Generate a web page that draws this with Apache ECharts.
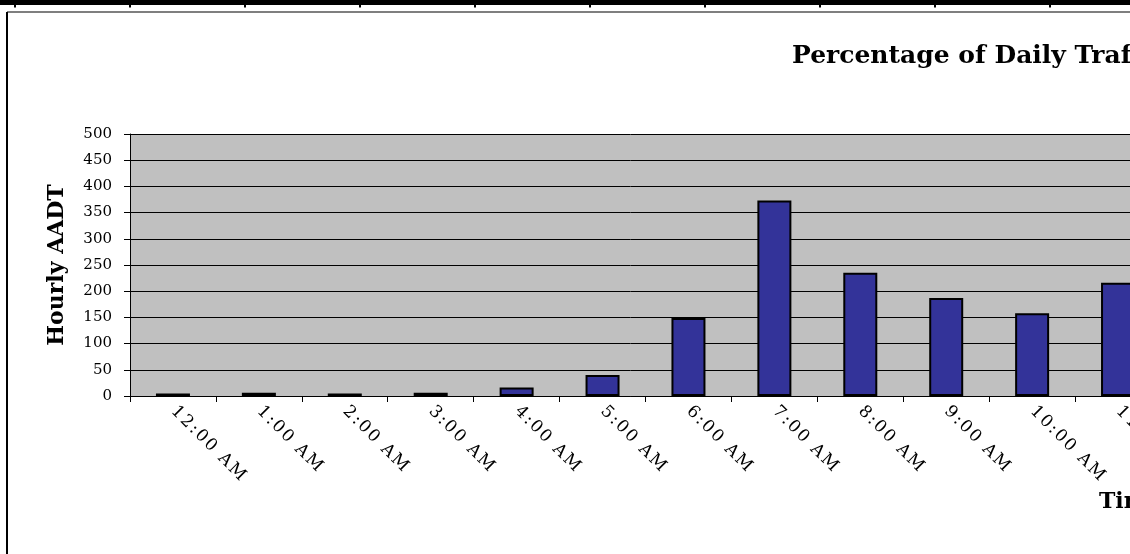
<!DOCTYPE html>
<html>
<head>
<meta charset="utf-8">
<script src="https://cdn.jsdelivr.net/npm/echarts@6/dist/echarts.min.js"></script>
<style>
  html, body { margin: 0; padding: 0; background: #fff; }
  #chart { width: 1130px; height: 554px; }
</style>
</head>
<body>
<div id="chart"></div>
<script>
// Hourly traffic volumes, midnight through late morning
const hours = ['12:00 AM', '1:00 AM', '2:00 AM', '3:00 AM', '4:00 AM', '5:00 AM',
               '6:00 AM', '7:00 AM', '8:00 AM', '9:00 AM', '10:00 AM', '11:00 AM'];
const hourlyAADT = [5, 6, 5, 6, 16, 40, 149, 373, 235, 187, 158, 216];
const yMin = 0, yMax = 500, yStep = 50;

const chartTitle = 'Percentage of Daily Traffic';
const yName = 'Hourly AADT';
const xName = 'Time';

const serif = '"DejaVu Serif", "Liberation Serif", serif';

// spaced-out characters for the slanted hour labels
const spaced = v => v.split('').map(c => '{s|' + c + '}').join('');

const chart = echarts.init(document.getElementById('chart'), null, { renderer: 'canvas' });

chart.setOption({
  backgroundColor: '#ffffff',
  animation: false,
  title: [
    {
      text: chartTitle,
      left: 792, top: 44, padding: 0,
      textStyle: { fontFamily: serif, fontWeight: 'bold', fontSize: 25, color: '#000' }
    },
    {
      text: xName,
      left: 1099, top: 491, padding: 0,
      textStyle: { fontFamily: serif, fontWeight: 'bold', fontSize: 22, color: '#000' }
    }
  ],
  graphic: [
    // edge of the neighbouring frame along the top
    { type: 'rect', shape: { x: 0, y: 0, width: 1130, height: 5 },
      style: { fill: '#000' }, silent: true },
    // chart-area frame
    { type: 'line', shape: { x1: 7, y1: 12, x2: 1130, y2: 12 },
      style: { stroke: '#7f7f7f', lineWidth: 2 }, silent: true },
    { type: 'line', shape: { x1: 7, y1: 12, x2: 7, y2: 554 },
      style: { stroke: '#000', lineWidth: 2 }, silent: true }
  ],
  grid: [
    { left: 130, top: 134, width: 1031, height: 262, outerBoundsMode: 'none',
      show: true, backgroundColor: '#c0c0c0', borderWidth: 0 },
    // tick row of the neighbouring frame
    { left: 15, top: -100, width: 1150, height: 102.5, outerBoundsMode: 'none', show: false }
  ],
  xAxis: [
    {
      type: 'category', gridIndex: 0, data: hours, boundaryGap: true,
      axisLine: { show: true, lineStyle: { color: '#000', width: 1 } },
      axisTick: { show: true, alignWithLabel: false, length: 6, lineStyle: { color: '#000', width: 1 } },
      axisLabel: {
        rotate: -45, margin: 12, interval: 0, color: '#000',
        formatter: spaced,
        rich: { s: { fontFamily: serif, fontSize: 17, color: '#000', padding: [0, 1] } }
      },
      splitLine: { show: false }
    },
    {
      type: 'value', gridIndex: 1, min: 0, max: 10, interval: 1,
      axisLine: { show: true, lineStyle: { color: '#000', width: 5 } },
      axisTick: { show: true, length: 5, lineStyle: { color: '#000', width: 2 } },
      axisLabel: { show: false },
      splitLine: { show: false }
    }
  ],
  yAxis: [
    {
      type: 'value', gridIndex: 0, min: yMin, max: yMax, interval: yStep,
      name: yName, nameLocation: 'middle', nameGap: 62, nameRotate: 90,
      nameTextStyle: { fontFamily: serif, fontWeight: 'bold', fontSize: 22, color: '#000' },
      axisLine: { show: true, lineStyle: { color: '#000', width: 1 } },
      axisTick: { show: true, length: 6, lineStyle: { color: '#000', width: 1 } },
      axisLabel: { fontFamily: serif, fontSize: 15, color: '#000', margin: 18 },
      splitLine: { show: true, lineStyle: { color: '#000', width: 1 } }
    },
    {
      type: 'value', gridIndex: 1, show: false, min: 0, max: 1
    }
  ],
  series: [
    {
      type: 'bar', xAxisIndex: 0, yAxisIndex: 0,
      data: hourlyAADT, barWidth: 34,
      itemStyle: { color: '#333399', borderColor: '#000', borderWidth: 2 }
    }
  ]
});
</script>
</body>
</html>
